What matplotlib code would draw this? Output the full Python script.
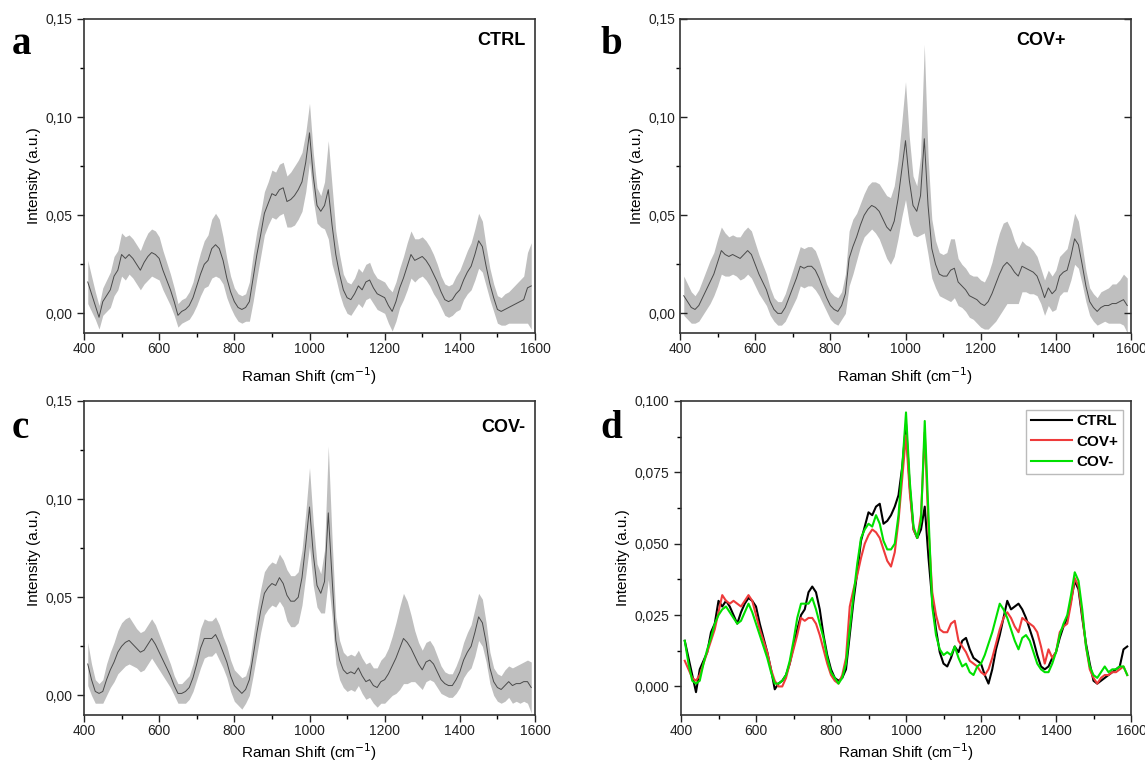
import numpy as np
import matplotlib
matplotlib.use("Agg")
import matplotlib.pyplot as plt
from matplotlib.ticker import MultipleLocator, FuncFormatter

plt.rcParams['font.family'] = ['Liberation Sans', 'DejaVu Sans']

# Raman shift grid (cm-1)
shift = np.arange(410, 1600, 10)

ctrl_mean = [
    0.016, 0.010, 0.004, -0.002, 0.006, 0.009, 0.012, 0.019, 0.022, 0.030,
    0.028, 0.030, 0.028, 0.025, 0.022, 0.026, 0.029, 0.031, 0.030, 0.028,
    0.022, 0.017, 0.012, 0.006, -0.001, 0.001, 0.002, 0.004, 0.008, 0.014,
    0.020, 0.025, 0.027, 0.033, 0.035, 0.033, 0.027, 0.018, 0.011, 0.006,
    0.003, 0.002, 0.003, 0.006, 0.018, 0.030, 0.040, 0.051, 0.056, 0.061,
    0.060, 0.063, 0.064, 0.057, 0.058, 0.060, 0.063, 0.067, 0.077, 0.092,
    0.070, 0.055, 0.052, 0.055, 0.063, 0.045, 0.030, 0.020, 0.012, 0.008,
    0.007, 0.010, 0.014, 0.012, 0.016, 0.017, 0.013, 0.010, 0.009, 0.008,
    0.004, 0.001, 0.006, 0.013, 0.018, 0.024, 0.030, 0.027, 0.028, 0.029,
    0.027, 0.024, 0.020, 0.016, 0.011, 0.007, 0.006, 0.007, 0.010, 0.012,
    0.017, 0.021, 0.024, 0.030, 0.037, 0.034, 0.024, 0.015, 0.008, 0.002,
    0.001, 0.002, 0.003, 0.004, 0.005, 0.006, 0.007, 0.013, 0.014,
]
ctrl_sd = [
    0.011, 0.009, 0.007, 0.006, 0.007, 0.008, 0.009, 0.010, 0.010, 0.011,
    0.011, 0.010, 0.010, 0.010, 0.010, 0.011, 0.012, 0.012, 0.012, 0.011,
    0.010, 0.009, 0.008, 0.007, 0.006, 0.006, 0.006, 0.007, 0.008, 0.010,
    0.011, 0.012, 0.013, 0.015, 0.016, 0.015, 0.012, 0.010, 0.008, 0.007,
    0.007, 0.007, 0.007, 0.010, 0.012, 0.012, 0.011, 0.011, 0.011, 0.012,
    0.012, 0.013, 0.013, 0.013, 0.014, 0.015, 0.015, 0.015, 0.015, 0.015,
    0.012, 0.009, 0.008, 0.012, 0.025, 0.020, 0.012, 0.010, 0.008, 0.008,
    0.008, 0.008, 0.009, 0.009, 0.009, 0.009, 0.008, 0.008, 0.008, 0.008,
    0.009, 0.010, 0.010, 0.010, 0.011, 0.012, 0.012, 0.011, 0.010, 0.010,
    0.010, 0.010, 0.010, 0.009, 0.008, 0.008, 0.008, 0.008, 0.009, 0.010,
    0.010, 0.011, 0.012, 0.013, 0.014, 0.013, 0.010, 0.008, 0.007, 0.007,
    0.007, 0.008, 0.008, 0.009, 0.010, 0.011, 0.012, 0.018, 0.022,
]
covp_mean = [
    0.009, 0.006, 0.003, 0.002, 0.004, 0.008, 0.012, 0.016, 0.020, 0.026,
    0.032, 0.030, 0.029, 0.030, 0.029, 0.028, 0.030, 0.032, 0.030, 0.025,
    0.020, 0.016, 0.012, 0.006, 0.002, 0.000, 0.000, 0.003, 0.008, 0.013,
    0.018, 0.024, 0.023, 0.024, 0.024, 0.022, 0.018, 0.013, 0.008, 0.004,
    0.002, 0.001, 0.004, 0.010, 0.028, 0.034, 0.039, 0.045, 0.050, 0.053,
    0.055, 0.054, 0.052, 0.048, 0.044, 0.042, 0.047, 0.058, 0.073, 0.088,
    0.068, 0.055, 0.052, 0.060, 0.089, 0.055, 0.033, 0.025, 0.020, 0.019,
    0.019, 0.022, 0.023, 0.016, 0.014, 0.012, 0.009, 0.008, 0.007, 0.005,
    0.004, 0.006, 0.010, 0.015, 0.020, 0.024, 0.026, 0.024, 0.021, 0.019,
    0.024, 0.023, 0.022, 0.021, 0.019, 0.014, 0.008, 0.013, 0.010, 0.012,
    0.019, 0.021, 0.022, 0.029, 0.038, 0.035, 0.025, 0.014, 0.006, 0.003,
    0.001, 0.003, 0.004, 0.004, 0.005, 0.005, 0.006, 0.007, 0.004,
]
covp_sd = [
    0.010, 0.009, 0.008, 0.007, 0.008, 0.009, 0.010, 0.011, 0.011, 0.012,
    0.012, 0.011, 0.010, 0.010, 0.010, 0.011, 0.012, 0.012, 0.012, 0.011,
    0.010, 0.009, 0.008, 0.007, 0.006, 0.006, 0.006, 0.007, 0.008, 0.009,
    0.010, 0.010, 0.010, 0.010, 0.010, 0.010, 0.009, 0.008, 0.007, 0.007,
    0.007, 0.007, 0.007, 0.010, 0.014, 0.014, 0.012, 0.011, 0.011, 0.012,
    0.012, 0.013, 0.014, 0.015, 0.016, 0.017, 0.018, 0.020, 0.024, 0.030,
    0.022, 0.015, 0.013, 0.020, 0.048, 0.025, 0.015, 0.012, 0.011, 0.011,
    0.012, 0.016, 0.015, 0.012, 0.011, 0.011, 0.011, 0.011, 0.012, 0.012,
    0.012, 0.014, 0.016, 0.019, 0.021, 0.022, 0.021, 0.019, 0.016, 0.014,
    0.013, 0.012, 0.012, 0.011, 0.010, 0.009, 0.009, 0.009, 0.009, 0.010,
    0.010, 0.010, 0.011, 0.012, 0.013, 0.012, 0.010, 0.008, 0.007, 0.007,
    0.007, 0.008, 0.008, 0.009, 0.010, 0.010, 0.011, 0.013, 0.014,
]
covm_mean = [
    0.016, 0.008, 0.002, 0.001, 0.002, 0.008, 0.013, 0.017, 0.022, 0.025,
    0.027, 0.028, 0.026, 0.024, 0.022, 0.023, 0.026, 0.029, 0.026, 0.022,
    0.018, 0.014, 0.010, 0.005, 0.001, 0.001, 0.002, 0.004, 0.009, 0.016,
    0.024, 0.029, 0.029, 0.029, 0.031, 0.027, 0.022, 0.017, 0.010, 0.005,
    0.003, 0.001, 0.003, 0.008, 0.020, 0.032, 0.043, 0.052, 0.055, 0.057,
    0.056, 0.060, 0.057, 0.051, 0.048, 0.048, 0.050, 0.060, 0.077, 0.096,
    0.072, 0.056, 0.052, 0.058, 0.093, 0.060, 0.028, 0.018, 0.013, 0.011,
    0.012, 0.011, 0.014, 0.010, 0.007, 0.008, 0.005, 0.004, 0.007, 0.008,
    0.011, 0.015, 0.019, 0.024, 0.029, 0.027, 0.024, 0.020, 0.016, 0.013,
    0.017, 0.018, 0.016, 0.012, 0.008, 0.006, 0.005, 0.005, 0.008, 0.012,
    0.018, 0.022, 0.025, 0.032, 0.040, 0.037, 0.027, 0.014, 0.007, 0.004,
    0.003, 0.005, 0.007, 0.005, 0.006, 0.006, 0.007, 0.007, 0.004,
]
covm_sd = [
    0.011, 0.008, 0.006, 0.005, 0.006, 0.008, 0.009, 0.010, 0.011, 0.012,
    0.012, 0.012, 0.011, 0.010, 0.010, 0.010, 0.010, 0.010, 0.010, 0.009,
    0.008, 0.007, 0.006, 0.005, 0.005, 0.005, 0.006, 0.006, 0.007, 0.008,
    0.010, 0.010, 0.009, 0.009, 0.009, 0.009, 0.008, 0.008, 0.008, 0.008,
    0.008, 0.008, 0.007, 0.008, 0.010, 0.011, 0.011, 0.011, 0.011, 0.011,
    0.011, 0.012, 0.012, 0.013, 0.013, 0.013, 0.013, 0.014, 0.016, 0.020,
    0.016, 0.011, 0.010, 0.016, 0.034, 0.020, 0.012, 0.010, 0.009, 0.009,
    0.009, 0.009, 0.009, 0.009, 0.009, 0.009, 0.009, 0.010, 0.011, 0.012,
    0.013, 0.015, 0.018, 0.021, 0.023, 0.021, 0.017, 0.013, 0.011, 0.010,
    0.010, 0.010, 0.009, 0.008, 0.007, 0.006, 0.006, 0.006, 0.007, 0.008,
    0.009, 0.010, 0.011, 0.012, 0.012, 0.012, 0.010, 0.008, 0.007, 0.007,
    0.007, 0.008, 0.008, 0.009, 0.009, 0.010, 0.010, 0.011, 0.013,
]

group_names = ["CTRL", "COV+", "COV-"]
panel_letters = ["a", "b", "c", "d"]
xlabel = "Raman Shift (cm$^{-1}$)"
ylabel = "Intensity (a.u.)"

W, H = 1145, 765
fig = plt.figure(figsize=(W / 100, H / 100), dpi=100)


def rect(x0, y0, x1, y1):
    return [x0 / W, 1 - y1 / H, (x1 - x0) / W, (y1 - y0) / H]


axa = fig.add_axes(rect(84, 19, 535, 333))
axb = fig.add_axes(rect(680, 19, 1131, 333))
axc = fig.add_axes(rect(84, 401, 535, 715))
axd = fig.add_axes(rect(681, 401, 1131, 715))

comma2 = FuncFormatter(lambda v, p: f"{v:.2f}".replace(".", ","))
comma3 = FuncFormatter(lambda v, p: f"{v:.3f}".replace(".", ","))


def style(ax, ymaj, ymin, fmt, xpad):
    ax.set_xlim(400, 1600)
    ax.xaxis.set_major_locator(MultipleLocator(200))
    ax.xaxis.set_minor_locator(MultipleLocator(100))
    ax.yaxis.set_major_locator(MultipleLocator(ymaj))
    ax.yaxis.set_minor_locator(MultipleLocator(ymin))
    ax.yaxis.set_major_formatter(fmt)
    ax.tick_params(which='major', direction='out', length=5, width=1,
                   labelsize=10, colors='#222222')
    ax.tick_params(axis='x', which='major', pad=1.5)
    ax.tick_params(which='minor', direction='out', length=3, width=1)
    for s in ax.spines.values():
        s.set_linewidth(1.2)
        s.set_color('#333333')
    ax.set_xlabel(xlabel, fontsize=11, labelpad=xpad)
    ax.set_ylabel(ylabel, fontsize=11, labelpad=3)


band_axes = [axa, axb, axc]
label_pads = [7, 7, 2.5]
means = [ctrl_mean, covp_mean, covm_mean]
sds = [ctrl_sd, covp_sd, covm_sd]
for ax, m, s, lp in zip(band_axes, means, sds, label_pads):
    m = np.array(m)
    s = np.array(s)
    ax.fill_between(shift, m - s, m + s, color='#bfbfbf', lw=0)
    ax.plot(shift, m, color='#4a4a4a', lw=0.7)
    ax.set_ylim(-0.01, 0.15)
    style(ax, 0.05, 0.025, comma2, lp)

axb.tick_params(axis='y', which='major', right=True, direction='in')
axb.tick_params(axis='y', which='minor', right=False)

axa.text(0.978, 0.93, "CTRL", transform=axa.transAxes, ha='right', va='center',
         fontsize=13, fontweight='bold')
axb.text(0.855, 0.93, "COV+", transform=axb.transAxes, ha='right', va='center',
         fontsize=13, fontweight='bold')
axc.text(0.978, 0.915, "COV-", transform=axc.transAxes, ha='right', va='center',
         fontsize=13, fontweight='bold')

colors = ['#000000', '#ee3b3b', '#00e000']
for m, name, c in zip(means, group_names, colors):
    axd.plot(shift, m, color=c, lw=1.5, label=name)
axd.set_ylim(-0.01, 0.10)
style(axd, 0.025, 0.0125, comma3, 2.5)
leg = axd.legend(loc='upper right', bbox_to_anchor=(0.982, 0.972), borderaxespad=0,
                 fancybox=False, edgecolor='#bbbbbb',
                 prop={'weight': 'bold', 'size': 11},
                 handlelength=2.7, handletextpad=0.3, borderpad=0.3,
                 labelspacing=0.42, framealpha=1)
leg.get_frame().set_linewidth(1.0)

letter_pos = [(12, 45), (600, 45), (12, 428), (600, 428)]
for (px, py), letter in zip(letter_pos, panel_letters):
    fig.text(px / W, 1 - py / H, letter, fontsize=28, fontweight='bold',
             family='Liberation Serif', ha='left', va='center')

fig.savefig("out.png", dpi=100)
